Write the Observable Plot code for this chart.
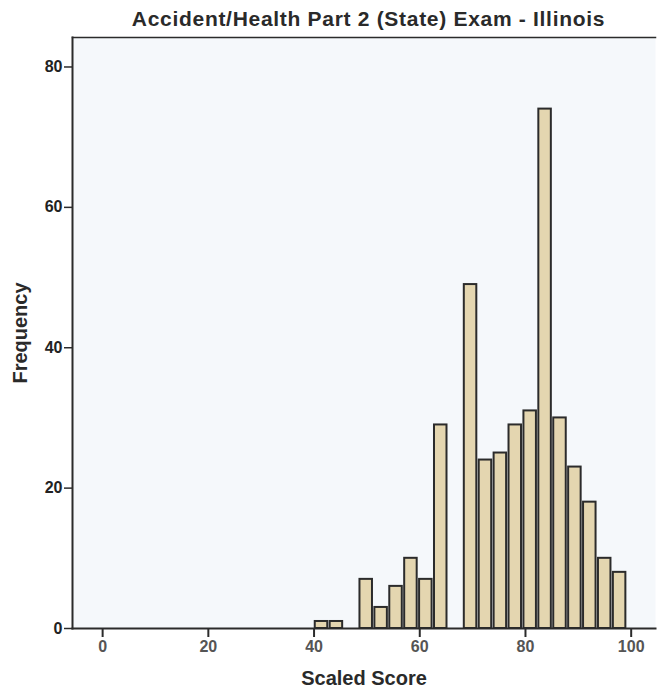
<!DOCTYPE html>
<html><head><meta charset="utf-8">
<script src="https://cdn.jsdelivr.net/npm/d3@7"></script>
<script src="https://cdn.jsdelivr.net/npm/@observablehq/plot@0.6"></script>
<style>
body{margin:0;background:#fff;}
#title{height:30px;padding-top:4px;line-height:30px;font-family:"Liberation Sans",Arial,sans-serif;font-weight:bold;font-size:21px;letter-spacing:0.7px;color:#2a2a2a;text-align:center;padding-left:80px;white-space:nowrap;}
</style></head>
<body>
<div id="title">Accident/Health Part 2 (State) Exam - Illinois</div>
<div id="chart"></div>
<script>
const binStart = [40.0, 42.82, 45.64, 48.46, 51.28, 54.1, 56.92, 59.74, 62.56, 65.38, 68.2, 71.02, 73.84, 76.66, 79.48, 82.3, 85.12, 87.94, 90.76, 93.58, 96.4];
const binEnd   = [42.82, 45.64, 48.46, 51.28, 54.1, 56.92, 59.74, 62.56, 65.38, 68.2, 71.02, 73.84, 76.66, 79.48, 82.3, 85.12, 87.94, 90.76, 93.58, 96.4, 99.22];
const counts   = [1, 1, 0, 7, 3, 6, 10, 7, 29, 0, 49, 24, 25, 29, 31, 74, 30, 23, 18, 10, 8];
const xTicks = [0, 20, 40, 60, 80, 100];
const yTicks = [0, 20, 40, 60, 80];

const bins = binStart.map((s, i) => ({x1: s, x2: binEnd[i], y: counts[i]})).filter(d => d.y > 0);

const chart = Plot.plot({
  width: 657,
  height: 660,
  marginTop: 3,
  marginLeft: 72,
  marginRight: 2,
  marginBottom: 66,
  style: {fontFamily: "Liberation Sans, Arial, sans-serif", fontWeight: "bold", fontSize: "16px", background: "#fff", color: "#222"},
  x: {domain: [-5.7, 104.6]},
  y: {domain: [0, 84.2]},
  marks: [
    Plot.frame({fill: "#f5f8fb", stroke: "none"}),
    Plot.rectY(bins, {x1: "x1", x2: "x2", y: "y", fill: "#e4d6b0", stroke: "#2b2b2b", strokeWidth: 2, insetLeft: 1.2, insetRight: 1.2}),
    Plot.frame({anchor: "top", stroke: "#2b2b2b", strokeWidth: 1.5}),
    Plot.frame({anchor: "left", stroke: "#2b2b2b", strokeWidth: 2}),
    Plot.frame({anchor: "bottom", stroke: "#2b2b2b", strokeWidth: 2}),
    Plot.axisY({ticks: yTicks, tickSize: 8, tickPadding: 2, label: null, stroke: "#2b2b2b", strokeWidth: 1.5, fill: "#222", fontSize: 16}),
    Plot.axisX({ticks: xTicks, tickSize: 9, tickPadding: 3, label: null, stroke: "#2b2b2b", strokeWidth: 2, fill: "#555", fontSize: 16}),
    Plot.text(["Frequency"], {frameAnchor: "left", textAnchor: "middle", rotate: -90, dx: -52, fontSize: 20, fontWeight: "bold", fill: "#2a2a2a", letterSpacing: "0.8px"}),
    Plot.text(["Scaled Score"], {frameAnchor: "bottom", textAnchor: "middle", dy: 56, fontSize: 20, fontWeight: "bold", fill: "#2a2a2a", letterSpacing: "0.8px"})
  ]
});
document.getElementById("chart").appendChild(chart);
</script>
</body></html>
